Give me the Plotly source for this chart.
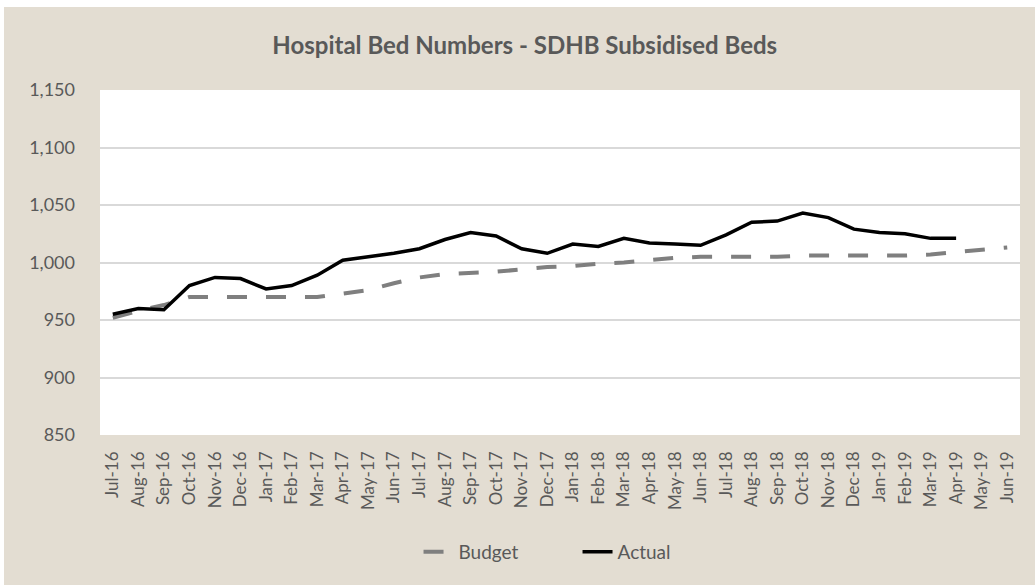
import plotly.graph_objects as go

months = ["Jul-16","Aug-16","Sep-16","Oct-16","Nov-16","Dec-16","Jan-17","Feb-17","Mar-17","Apr-17",
          "May-17","Jun-17","Jul-17","Aug-17","Sep-17","Oct-17","Nov-17","Dec-17","Jan-18","Feb-18",
          "Mar-18","Apr-18","May-18","Jun-18","Jul-18","Aug-18","Sep-18","Oct-18","Nov-18","Dec-18",
          "Jan-19","Feb-19","Mar-19","Apr-19","May-19","Jun-19"]

budget = [952, 958, 963, 970, 970, 970, 970, 970, 970, 973,
          976, 982, 987, 990, 991, 992, 994, 996, 997, 999,
          1000, 1002, 1004, 1005, 1005, 1005, 1005, 1006, 1006, 1006,
          1006, 1006, 1007, 1009, 1011, 1013]

actual = [955, 960, 959, 980, 987, 986, 977, 980, 989, 1002,
          1005, 1008, 1012, 1020, 1026, 1023, 1012, 1008, 1016, 1014,
          1021, 1017, 1016, 1015, 1024, 1035, 1036, 1043, 1039, 1029,
          1026, 1025, 1021, 1021]

font = "Lato, 'Open Sans', sans-serif"
txt = "#595959"

W, H = 1035, 585
L, R, T, B = 100, 15, 90, 150
pw, ph = W - L - R, H - T - B

fig = go.Figure()
fig.add_trace(go.Scatter(x=months, y=budget, name="Budget", mode="lines",
                         line=dict(color="#7f7f7f", width=4, dash="20px,19px")))
fig.add_trace(go.Scatter(x=months[:len(actual)], y=actual, name="Actual", mode="lines",
                         line=dict(color="#000000", width=3.5)))

# thin white border strips at the top and left edge of the picture
def px_x(p):
    return (p - L) / pw

def px_y(p):
    return (H - B - p) / ph

fig.add_shape(type="rect", xref="paper", yref="paper", x0=px_x(0), x1=px_x(W), y0=px_y(7), y1=px_y(0),
              fillcolor="#ffffff", line=dict(width=0), layer="above")
fig.add_shape(type="rect", xref="paper", yref="paper", x0=px_x(0), x1=px_x(4), y0=px_y(H), y1=px_y(0),
              fillcolor="#ffffff", line=dict(width=0), layer="above")

fig.update_layout(
    width=W, height=H,
    margin=dict(l=L, r=R, t=T, b=B, autoexpand=False),
    paper_bgcolor="#e3ddd2",
    plot_bgcolor="#ffffff",
    title=dict(text="<b>Hospital Bed Numbers - SDHB Subsidised Beds</b>", x=0.507, xanchor="center",
               y=0.922, yanchor="middle", font=dict(family=font, size=24, color=txt)),
    font=dict(family=font, size=17, color=txt),
    showlegend=True,
    legend=dict(orientation="h", x=0.558, xanchor="center", xref="container",
                y=1 - 552 / H, yanchor="middle", yref="container",
                font=dict(family=font, size=19, color=txt), bgcolor="rgba(0,0,0,0)",
                entrywidth=114, entrywidthmode="pixels"),
    xaxis=dict(type="category", categoryorder="array", categoryarray=months,
               range=[-0.5, len(months) - 0.5],
               tickangle=-90, showgrid=False, showline=False, ticks="",
               tickfont=dict(family=font, size=17, color=txt), ticklabelstandoff=12),
    yaxis=dict(range=[850, 1150], dtick=50, tickformat=",", showgrid=True, gridcolor="#d9d9d9",
               gridwidth=1.5, zeroline=False, showline=False, ticks="",
               tickfont=dict(family=font, size=18, color=txt), ticklabelstandoff=24),
)

fig.write_html("out.html")
